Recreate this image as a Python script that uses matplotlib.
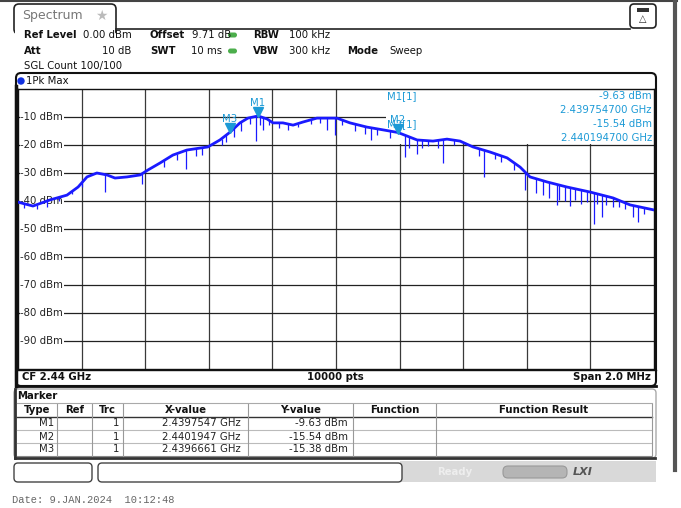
import matplotlib.pyplot as plt
import numpy as np
from matplotlib.patches import FancyBboxPatch, Rectangle, Circle
import matplotlib.transforms as mtransforms

# trace envelope (MHz from start of span, dBm)
freq_mhz = [0.000, 0.047, 0.101, 0.154, 0.189, 0.217, 0.248, 0.280, 0.305, 0.343,
            0.384, 0.409, 0.447, 0.487, 0.531, 0.572, 0.597, 0.635, 0.667, 0.698,
            0.723, 0.755, 0.783, 0.802, 0.833, 0.865, 0.896, 0.940, 0.972, 1.003,
            1.044, 1.097, 1.148, 1.195, 1.255, 1.305, 1.349, 1.390, 1.431, 1.484,
            1.538, 1.579, 1.610, 1.664, 1.726, 1.799, 1.871, 1.925, 2.000]
level_dbm = [-40.4, -41.8, -39.6, -37.9, -35.0, -31.4, -30.0, -30.7, -31.8, -31.4,
             -30.7, -28.9, -26.4, -23.6, -21.8, -21.1, -20.7, -18.2, -15.4, -12.1,
             -10.4, -9.63, -10.7, -12.1, -12.1, -12.9, -11.8, -10.4, -10.4, -10.4,
             -12.1, -13.6, -14.6, -15.54, -18.2, -18.6, -17.9, -18.6, -20.7, -22.5,
             -24.6, -27.9, -31.4, -33.2, -35.0, -36.8, -38.9, -41.4, -43.2]

# downward spikes of the trace (MHz, lowest dBm)
spike_mhz = [0.274, 0.390, 0.528, 0.654, 0.748, 0.770, 0.972, 0.997, 1.110, 1.217,
             1.255, 1.336, 1.465, 1.594, 1.695, 1.736, 1.811, 1.836, 1.934, 1.950,
             0.02, 0.06, 0.09, 0.13, 0.17, 0.20, 0.46, 0.50, 0.56, 0.58,
             0.64, 0.68, 0.70, 0.73, 0.76, 0.79, 0.82, 0.85, 0.88, 0.92,
             0.95, 1.02, 1.06, 1.09, 1.13, 1.17, 1.23, 1.27, 1.29, 1.32,
             1.37, 1.45, 1.50, 1.52, 1.56, 1.63, 1.65, 1.67, 1.70, 1.72,
             1.75, 1.77, 1.79, 1.82, 1.85, 1.87, 1.89, 1.91, 1.97]
spike_dbm = [-36.8, -33.9, -28.6, -18.9, -18.6, -14.6, -14.6, -16.4, -18.2, -24.3,
             -23.2, -26.4, -31.4, -36.1, -41.4, -41.8, -48.2, -45.7, -45.7, -47.5,
             -42.5, -43.0, -42.0, -40.0, -37.5, -35.0, -28.0, -25.5, -24.0, -23.5,
             -20.0, -17.0, -15.0, -12.5, -13.0, -13.0, -14.0, -14.5, -13.5, -12.5,
             -12.0, -13.0, -15.0, -16.0, -16.5, -17.5, -21.0, -21.0, -20.5, -21.0,
             -20.0, -24.0, -25.0, -26.0, -29.0, -37.0, -38.0, -39.0, -39.5, -40.0,
             -39.5, -41.0, -40.5, -41.0, -41.5, -42.0, -42.0, -43.0, -44.5]

# marker table
m_type = ["M1", "M2", "M3"]
m_trc = ["1", "1", "1"]
m_x_ghz = [2.4397547, 2.4401947, 2.4396661]
m_y_dbm = [-9.63, -15.54, -15.38]

start_ghz = 2.439
y_levels = [-10, -20, -30, -40, -50, -60, -70, -80, -90]

W, H = 681, 508
fig = plt.figure(figsize=(W / 100, H / 100), dpi=100)
fig.patch.set_facecolor("white")

# pixel overlay for the instrument frame
ax0 = fig.add_axes([0, 0, 1, 1])
ax0.set_xlim(0, W)
ax0.set_ylim(H, 0)
ax0.axis("off")
px = ax0.transData
FS = 7.3
blue_txt = "#1c9ad6"

ax0.plot([0, 677], [1, 1], color="#444", lw=1.5)
ax0.plot([675, 675], [0, 470], color="#555", lw=3)

# tab
ax0.add_patch(FancyBboxPatch((14, 4), 102, 30, boxstyle="round,pad=0,rounding_size=5",
                             ec="#222", fc="white", lw=1.2))
ax0.add_patch(Rectangle((15, 29), 100, 6, fc="white", ec="none", zorder=3))
ax0.plot([116, 630], [28.5, 28.5], color="#222", lw=1.2)
ax0.text(22, 16, "Spectrum", fontsize=9, color="#777", va="center")
ax0.text(101, 16, "\u2605", fontsize=10, color="#bbb", va="center", ha="center")
ax0.add_patch(FancyBboxPatch((630, 4), 26, 24, boxstyle="round,pad=0,rounding_size=4",
                             ec="#222", fc="white", lw=1.2))
ax0.add_patch(Rectangle((637, 8), 12, 4, fc="#333", ec="none"))
ax0.text(643, 19, "\u25b3", fontsize=7, ha="center", va="center", color="#333")

# header settings
def hdr(x, y, s, bold=False, ha="left"):
    ax0.text(x, y, s, fontsize=FS, ha=ha, va="center",
             fontweight="bold" if bold else "normal", color="#111")

hdr(24, 35, "Ref Level", True)
hdr(83, 35, "0.00 dBm")
hdr(150, 35, "Offset", True)
hdr(192, 35, "9.71 dB")
hdr(253, 35, "RBW", True)
hdr(289, 35, "100 kHz")
hdr(24, 51, "Att", True)
hdr(131, 51, "10 dB", ha="right")
hdr(150, 51, "SWT", True)
hdr(222, 51, "10 ms", ha="right")
hdr(253, 51, "VBW", True)
hdr(289, 51, "300 kHz")
hdr(347, 51, "Mode", True)
hdr(389, 51, "Sweep")
hdr(24, 66, "SGL Count 100/100")
for yy in (35, 51):
    ax0.add_patch(FancyBboxPatch((228, yy - 2.5), 9, 5, boxstyle="round,pad=0,rounding_size=2.5",
                                 fc="#4cae4c", ec="none"))

# graph frame
ax0.add_patch(FancyBboxPatch((16, 73), 640, 313, boxstyle="round,pad=0,rounding_size=5",
                             ec="#111", fc="white", lw=1.5))
ax0.plot([16, 16], [86, 386], color="#111", lw=2.5)
ax0.add_patch(Circle((21, 81), 3, color="#1030e0"))
hdr(26, 81, "1Pk Max")
ax0.plot([16, 656], [369.5, 369.5], color="#111", lw=1)
hdr(22, 377, "CF 2.44 GHz", True)
hdr(335, 377, "10000 pts", True, ha="center")
hdr(651, 377, "Span 2.0 MHz", True, ha="right")
ax0.plot([17, 656], [386, 386], color="#111", lw=2)

# marker table box
ax0.add_patch(FancyBboxPatch((14, 389), 642, 69, boxstyle="round,pad=0,rounding_size=4",
                             ec="#aaa", fc="white", lw=1))
ax0.plot([15, 15], [389, 458], color="#333", lw=2)
ax0.plot([15, 655], [458, 458], color="#333", lw=2)
hdr(17, 396, "Marker", True)
cols = [17, 57, 92, 123, 248, 353, 436, 652]
ax0.plot([17, 652], [403, 403], color="#aaa", lw=0.8)
ax0.plot([17, 652], [417, 417], color="#333", lw=1)
for yy in (430, 443):
    ax0.plot([17, 652], [yy, yy], color="#bbb", lw=0.8)
ax0.plot([17, 652], [456, 456], color="#888", lw=0.8)
for c in cols[1:-1]:
    ax0.plot([c, c], [404, 456], color="#999", lw=0.8)
ax0.plot([652, 652], [404, 456], color="#999", lw=0.8)
headers = ["Type", "Ref", "Trc", "X-value", "Y-value", "Function", "Function Result"]
for i, h in enumerate(headers):
    hdr((cols[i] + cols[i + 1]) / 2, 410, h, True, ha="center")
for r in range(3):
    yy = 423.5 + r * 13
    ax0.text(54, yy, m_type[r], fontsize=FS, ha="right", va="center", color="#222")
    ax0.text(119, yy, m_trc[r], fontsize=FS, ha="right", va="center", color="#222")
    ax0.text(241, yy, f"{m_x_ghz[r]:.7f} GHz", fontsize=FS, ha="right", va="center", color="#222")
    ax0.text(348, yy, f"{m_y_dbm[r]:.2f} dBm", fontsize=FS, ha="right", va="center", color="#222")

# status bar
ax0.add_patch(Rectangle((400, 461), 256, 21, fc="#d9d9d9", ec="none"))
ax0.add_patch(FancyBboxPatch((14, 463), 78, 19, boxstyle="round,pad=0,rounding_size=4",
                             ec="#444", fc="white", lw=1))
ax0.add_patch(FancyBboxPatch((98, 463), 304, 19, boxstyle="round,pad=0,rounding_size=4",
                             ec="#444", fc="white", lw=1))
ax0.text(437, 472, "Ready", fontsize=FS, color="#eee", va="center", fontweight="bold")
ax0.add_patch(FancyBboxPatch((503, 466), 64, 12, boxstyle="round,pad=0,rounding_size=5",
                             ec="#999", fc="#b5b5b5", lw=0.8))
ax0.text(573, 472, "LXI", fontsize=8, color="#555", va="center", fontweight="bold", style="italic")

ax0.text(12, 500, "Date: 9.JAN.2024  10:12:48", fontsize=7.5, color="#666",
         va="center", family="Liberation Mono")

# spectrum plot
ax = fig.add_axes([18 / W, 1 - 369 / H, 636 / W, 280 / H])
ax.set_xlim(0, 2)
ax.set_ylim(-100, 0)
ax.set_xticks([])
ax.set_yticks([])
for s in ax.spines.values():
    s.set_color("#111")
    s.set_linewidth(1)
for i in range(1, 10):
    ax.axvline(i * 0.2, color="#3a3a3a", lw=0.9, zorder=1)
for lv in y_levels:
    ax.axhline(lv, color="#222", lw=0.9, zorder=1)
ax.add_patch(Rectangle((1.157, -19.7), 0.85, 19.7, fc="white", ec="none", zorder=1.5))
for lv in y_levels:
    ax.text(0.142, lv, f"{lv} dBm", fontsize=FS, ha="right", va="center", color="#222",
            zorder=2, bbox=dict(fc="white", ec="none", pad=0.6))

trace_col = "#1a1aff"
ax.plot(freq_mhz, level_dbm, color=trace_col, lw=2.0, zorder=4)
tops = np.interp(spike_mhz, freq_mhz, level_dbm)
ax.vlines(spike_mhz, spike_dbm, tops, color=trace_col, lw=0.9, zorder=4)

# markers
up = mtransforms.offset_copy(ax.transData, fig=fig, x=0, y=4, units="dots")
lab = mtransforms.offset_copy(ax.transData, fig=fig, x=0, y=13, units="dots")
mx = [(g - start_ghz) * 1000 for g in m_x_ghz]
ax.plot(mx, m_y_dbm, "v", ms=7, color="#1c9ad6", transform=up, zorder=5, clip_on=False)
for name, x, y in zip(m_type, mx, m_y_dbm):
    ax.text(x, y, name, fontsize=FS, color=blue_txt, ha="center", va="center",
            transform=lab, zorder=5)

ax.text(387, 96, "M1[1]", fontsize=FS, color=blue_txt, va="center", transform=px, zorder=5)
ax.text(652, 96, "-9.63 dBm", fontsize=FS, color=blue_txt, ha="right", va="center", transform=px, zorder=5)
ax.text(652, 110, "2.439754700 GHz", fontsize=FS, color=blue_txt, ha="right", va="center", transform=px, zorder=5)
ax.text(387, 124, "M2[1]", fontsize=FS, color=blue_txt, va="center", transform=px, zorder=5)
ax.text(652, 124, "-15.54 dBm", fontsize=FS, color=blue_txt, ha="right", va="center", transform=px, zorder=5)
ax.text(652, 138, "2.440194700 GHz", fontsize=FS, color=blue_txt, ha="right", va="center", transform=px, zorder=5)

fig.savefig("out.png", dpi=100)
